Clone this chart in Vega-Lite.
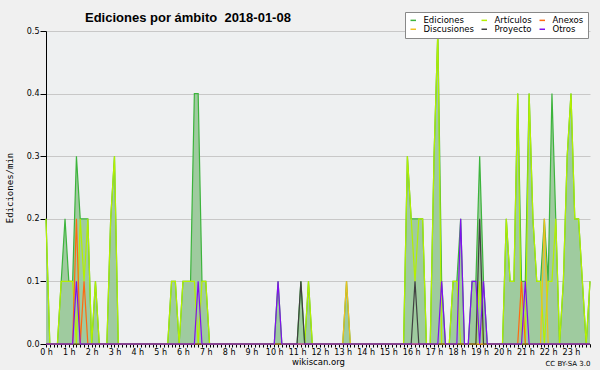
{
"$schema": "https://vega.github.io/schema/vega-lite/v6.json",
"width": 544, "height": 313, "autosize": "none",
"padding": {"left": 46, "top": 31, "right": 10, "bottom": 26},
"background": "#f0f0f0",
"config": {"view": {"fill": "#eef0f1", "stroke": null}, "font": "DejaVu Sans",
  "axis": {"domainColor": "#000", "tickColor": "#000", "labelColor": "#000", "titleColor": "#000", "titleFontWeight": "normal"}},
"title": {"text": "Ediciones por ámbito\u00a0 2018-01-08", "anchor": "start", "frame": "group", "dx": 39, "dy": 20, "offset": 7, "fontSize": 13, "font": "Liberation Sans", "fontWeight": "bold", "color": "#000"},
"data": {"values": [
{"m":0,"Ediciones":0.2,"Artículos":0.2,"Anexos":0,"Discusiones":0,"Proyecto":0,"Otros":0},
{"m":10,"Ediciones":0,"Artículos":0,"Anexos":0,"Discusiones":0,"Proyecto":0,"Otros":0},
{"m":20,"Ediciones":0,"Artículos":0,"Anexos":0,"Discusiones":0,"Proyecto":0,"Otros":0},
{"m":30,"Ediciones":0,"Artículos":0,"Anexos":0,"Discusiones":0,"Proyecto":0,"Otros":0},
{"m":40,"Ediciones":0.1,"Artículos":0.1,"Anexos":0,"Discusiones":0,"Proyecto":0,"Otros":0},
{"m":50,"Ediciones":0.2,"Artículos":0.1,"Anexos":0,"Discusiones":0,"Proyecto":0,"Otros":0},
{"m":60,"Ediciones":0.1,"Artículos":0.1,"Anexos":0,"Discusiones":0,"Proyecto":0,"Otros":0},
{"m":70,"Ediciones":0.1,"Artículos":0.1,"Anexos":0,"Discusiones":0,"Proyecto":0,"Otros":0},
{"m":80,"Ediciones":0.3,"Artículos":0,"Anexos":0.2,"Discusiones":0,"Proyecto":0,"Otros":0.1},
{"m":90,"Ediciones":0.2,"Artículos":0.2,"Anexos":0,"Discusiones":0,"Proyecto":0,"Otros":0},
{"m":100,"Ediciones":0.2,"Artículos":0.1,"Anexos":0.1,"Discusiones":0,"Proyecto":0,"Otros":0},
{"m":110,"Ediciones":0.2,"Artículos":0.2,"Anexos":0,"Discusiones":0,"Proyecto":0,"Otros":0},
{"m":120,"Ediciones":0,"Artículos":0,"Anexos":0,"Discusiones":0,"Proyecto":0,"Otros":0},
{"m":130,"Ediciones":0.1,"Artículos":0.1,"Anexos":0,"Discusiones":0,"Proyecto":0,"Otros":0},
{"m":140,"Ediciones":0,"Artículos":0,"Anexos":0,"Discusiones":0,"Proyecto":0,"Otros":0},
{"m":150,"Ediciones":0,"Artículos":0,"Anexos":0,"Discusiones":0,"Proyecto":0,"Otros":0},
{"m":160,"Ediciones":0,"Artículos":0,"Anexos":0,"Discusiones":0,"Proyecto":0,"Otros":0},
{"m":170,"Ediciones":0.2,"Artículos":0.2,"Anexos":0,"Discusiones":0,"Proyecto":0,"Otros":0},
{"m":180,"Ediciones":0.3,"Artículos":0.3,"Anexos":0,"Discusiones":0,"Proyecto":0,"Otros":0},
{"m":190,"Ediciones":0,"Artículos":0,"Anexos":0,"Discusiones":0,"Proyecto":0,"Otros":0},
{"m":200,"Ediciones":0,"Artículos":0,"Anexos":0,"Discusiones":0,"Proyecto":0,"Otros":0},
{"m":210,"Ediciones":0,"Artículos":0,"Anexos":0,"Discusiones":0,"Proyecto":0,"Otros":0},
{"m":220,"Ediciones":0,"Artículos":0,"Anexos":0,"Discusiones":0,"Proyecto":0,"Otros":0},
{"m":230,"Ediciones":0,"Artículos":0,"Anexos":0,"Discusiones":0,"Proyecto":0,"Otros":0},
{"m":240,"Ediciones":0,"Artículos":0,"Anexos":0,"Discusiones":0,"Proyecto":0,"Otros":0},
{"m":250,"Ediciones":0,"Artículos":0,"Anexos":0,"Discusiones":0,"Proyecto":0,"Otros":0},
{"m":260,"Ediciones":0,"Artículos":0,"Anexos":0,"Discusiones":0,"Proyecto":0,"Otros":0},
{"m":270,"Ediciones":0,"Artículos":0,"Anexos":0,"Discusiones":0,"Proyecto":0,"Otros":0},
{"m":280,"Ediciones":0,"Artículos":0,"Anexos":0,"Discusiones":0,"Proyecto":0,"Otros":0},
{"m":290,"Ediciones":0,"Artículos":0,"Anexos":0,"Discusiones":0,"Proyecto":0,"Otros":0},
{"m":300,"Ediciones":0,"Artículos":0,"Anexos":0,"Discusiones":0,"Proyecto":0,"Otros":0},
{"m":310,"Ediciones":0,"Artículos":0,"Anexos":0,"Discusiones":0,"Proyecto":0,"Otros":0},
{"m":320,"Ediciones":0,"Artículos":0,"Anexos":0,"Discusiones":0,"Proyecto":0,"Otros":0},
{"m":330,"Ediciones":0.1,"Artículos":0.1,"Anexos":0,"Discusiones":0,"Proyecto":0,"Otros":0},
{"m":340,"Ediciones":0.1,"Artículos":0.1,"Anexos":0,"Discusiones":0,"Proyecto":0,"Otros":0},
{"m":350,"Ediciones":0,"Artículos":0,"Anexos":0,"Discusiones":0,"Proyecto":0,"Otros":0},
{"m":360,"Ediciones":0.1,"Artículos":0.1,"Anexos":0,"Discusiones":0,"Proyecto":0,"Otros":0},
{"m":370,"Ediciones":0.1,"Artículos":0.1,"Anexos":0,"Discusiones":0,"Proyecto":0,"Otros":0},
{"m":380,"Ediciones":0.1,"Artículos":0.1,"Anexos":0,"Discusiones":0,"Proyecto":0,"Otros":0},
{"m":390,"Ediciones":0.4,"Artículos":0.1,"Anexos":0,"Discusiones":0,"Proyecto":0,"Otros":0},
{"m":400,"Ediciones":0.4,"Artículos":0,"Anexos":0,"Discusiones":0,"Proyecto":0,"Otros":0.1},
{"m":410,"Ediciones":0.1,"Artículos":0.1,"Anexos":0,"Discusiones":0,"Proyecto":0,"Otros":0},
{"m":420,"Ediciones":0.1,"Artículos":0.1,"Anexos":0,"Discusiones":0,"Proyecto":0,"Otros":0},
{"m":430,"Ediciones":0,"Artículos":0,"Anexos":0,"Discusiones":0,"Proyecto":0,"Otros":0},
{"m":440,"Ediciones":0,"Artículos":0,"Anexos":0,"Discusiones":0,"Proyecto":0,"Otros":0},
{"m":450,"Ediciones":0,"Artículos":0,"Anexos":0,"Discusiones":0,"Proyecto":0,"Otros":0},
{"m":460,"Ediciones":0,"Artículos":0,"Anexos":0,"Discusiones":0,"Proyecto":0,"Otros":0},
{"m":470,"Ediciones":0,"Artículos":0,"Anexos":0,"Discusiones":0,"Proyecto":0,"Otros":0},
{"m":480,"Ediciones":0,"Artículos":0,"Anexos":0,"Discusiones":0,"Proyecto":0,"Otros":0},
{"m":490,"Ediciones":0,"Artículos":0,"Anexos":0,"Discusiones":0,"Proyecto":0,"Otros":0},
{"m":500,"Ediciones":0,"Artículos":0,"Anexos":0,"Discusiones":0,"Proyecto":0,"Otros":0},
{"m":510,"Ediciones":0,"Artículos":0,"Anexos":0,"Discusiones":0,"Proyecto":0,"Otros":0},
{"m":520,"Ediciones":0,"Artículos":0,"Anexos":0,"Discusiones":0,"Proyecto":0,"Otros":0},
{"m":530,"Ediciones":0,"Artículos":0,"Anexos":0,"Discusiones":0,"Proyecto":0,"Otros":0},
{"m":540,"Ediciones":0,"Artículos":0,"Anexos":0,"Discusiones":0,"Proyecto":0,"Otros":0},
{"m":550,"Ediciones":0,"Artículos":0,"Anexos":0,"Discusiones":0,"Proyecto":0,"Otros":0},
{"m":560,"Ediciones":0,"Artículos":0,"Anexos":0,"Discusiones":0,"Proyecto":0,"Otros":0},
{"m":570,"Ediciones":0,"Artículos":0,"Anexos":0,"Discusiones":0,"Proyecto":0,"Otros":0},
{"m":580,"Ediciones":0,"Artículos":0,"Anexos":0,"Discusiones":0,"Proyecto":0,"Otros":0},
{"m":590,"Ediciones":0,"Artículos":0,"Anexos":0,"Discusiones":0,"Proyecto":0,"Otros":0},
{"m":600,"Ediciones":0,"Artículos":0,"Anexos":0,"Discusiones":0,"Proyecto":0,"Otros":0},
{"m":610,"Ediciones":0.1,"Artículos":0,"Anexos":0,"Discusiones":0,"Proyecto":0,"Otros":0.1},
{"m":620,"Ediciones":0,"Artículos":0,"Anexos":0,"Discusiones":0,"Proyecto":0,"Otros":0},
{"m":630,"Ediciones":0,"Artículos":0,"Anexos":0,"Discusiones":0,"Proyecto":0,"Otros":0},
{"m":640,"Ediciones":0,"Artículos":0,"Anexos":0,"Discusiones":0,"Proyecto":0,"Otros":0},
{"m":650,"Ediciones":0,"Artículos":0,"Anexos":0,"Discusiones":0,"Proyecto":0,"Otros":0},
{"m":660,"Ediciones":0,"Artículos":0,"Anexos":0,"Discusiones":0,"Proyecto":0,"Otros":0},
{"m":670,"Ediciones":0.1,"Artículos":0,"Anexos":0,"Discusiones":0,"Proyecto":0.1,"Otros":0},
{"m":680,"Ediciones":0,"Artículos":0,"Anexos":0,"Discusiones":0,"Proyecto":0,"Otros":0},
{"m":690,"Ediciones":0.1,"Artículos":0.1,"Anexos":0,"Discusiones":0,"Proyecto":0,"Otros":0},
{"m":700,"Ediciones":0,"Artículos":0,"Anexos":0,"Discusiones":0,"Proyecto":0,"Otros":0},
{"m":710,"Ediciones":0,"Artículos":0,"Anexos":0,"Discusiones":0,"Proyecto":0,"Otros":0},
{"m":720,"Ediciones":0,"Artículos":0,"Anexos":0,"Discusiones":0,"Proyecto":0,"Otros":0},
{"m":730,"Ediciones":0,"Artículos":0,"Anexos":0,"Discusiones":0,"Proyecto":0,"Otros":0},
{"m":740,"Ediciones":0,"Artículos":0,"Anexos":0,"Discusiones":0,"Proyecto":0,"Otros":0},
{"m":750,"Ediciones":0,"Artículos":0,"Anexos":0,"Discusiones":0,"Proyecto":0,"Otros":0},
{"m":760,"Ediciones":0,"Artículos":0,"Anexos":0,"Discusiones":0,"Proyecto":0,"Otros":0},
{"m":770,"Ediciones":0,"Artículos":0,"Anexos":0,"Discusiones":0,"Proyecto":0,"Otros":0},
{"m":780,"Ediciones":0,"Artículos":0,"Anexos":0,"Discusiones":0,"Proyecto":0,"Otros":0},
{"m":790,"Ediciones":0.1,"Artículos":0,"Anexos":0,"Discusiones":0.1,"Proyecto":0,"Otros":0},
{"m":800,"Ediciones":0,"Artículos":0,"Anexos":0,"Discusiones":0,"Proyecto":0,"Otros":0},
{"m":810,"Ediciones":0,"Artículos":0,"Anexos":0,"Discusiones":0,"Proyecto":0,"Otros":0},
{"m":820,"Ediciones":0,"Artículos":0,"Anexos":0,"Discusiones":0,"Proyecto":0,"Otros":0},
{"m":830,"Ediciones":0,"Artículos":0,"Anexos":0,"Discusiones":0,"Proyecto":0,"Otros":0},
{"m":840,"Ediciones":0,"Artículos":0,"Anexos":0,"Discusiones":0,"Proyecto":0,"Otros":0},
{"m":850,"Ediciones":0,"Artículos":0,"Anexos":0,"Discusiones":0,"Proyecto":0,"Otros":0},
{"m":860,"Ediciones":0,"Artículos":0,"Anexos":0,"Discusiones":0,"Proyecto":0,"Otros":0},
{"m":870,"Ediciones":0,"Artículos":0,"Anexos":0,"Discusiones":0,"Proyecto":0,"Otros":0},
{"m":880,"Ediciones":0,"Artículos":0,"Anexos":0,"Discusiones":0,"Proyecto":0,"Otros":0},
{"m":890,"Ediciones":0,"Artículos":0,"Anexos":0,"Discusiones":0,"Proyecto":0,"Otros":0},
{"m":900,"Ediciones":0,"Artículos":0,"Anexos":0,"Discusiones":0,"Proyecto":0,"Otros":0},
{"m":910,"Ediciones":0,"Artículos":0,"Anexos":0,"Discusiones":0,"Proyecto":0,"Otros":0},
{"m":920,"Ediciones":0,"Artículos":0,"Anexos":0,"Discusiones":0,"Proyecto":0,"Otros":0},
{"m":930,"Ediciones":0,"Artículos":0,"Anexos":0,"Discusiones":0,"Proyecto":0,"Otros":0},
{"m":940,"Ediciones":0,"Artículos":0,"Anexos":0,"Discusiones":0,"Proyecto":0,"Otros":0},
{"m":950,"Ediciones":0.3,"Artículos":0.3,"Anexos":0,"Discusiones":0,"Proyecto":0,"Otros":0},
{"m":960,"Ediciones":0.2,"Artículos":0.2,"Anexos":0,"Discusiones":0,"Proyecto":0,"Otros":0},
{"m":970,"Ediciones":0.2,"Artículos":0.1,"Anexos":0,"Discusiones":0,"Proyecto":0.1,"Otros":0},
{"m":980,"Ediciones":0.2,"Artículos":0.2,"Anexos":0,"Discusiones":0,"Proyecto":0,"Otros":0},
{"m":990,"Ediciones":0.2,"Artículos":0.2,"Anexos":0,"Discusiones":0,"Proyecto":0,"Otros":0},
{"m":1000,"Ediciones":0,"Artículos":0,"Anexos":0,"Discusiones":0,"Proyecto":0,"Otros":0},
{"m":1010,"Ediciones":0,"Artículos":0,"Anexos":0,"Discusiones":0,"Proyecto":0,"Otros":0},
{"m":1020,"Ediciones":0.3,"Artículos":0.3,"Anexos":0,"Discusiones":0,"Proyecto":0,"Otros":0},
{"m":1030,"Ediciones":0.5,"Artículos":0.5,"Anexos":0,"Discusiones":0,"Proyecto":0,"Otros":0},
{"m":1040,"Ediciones":0.1,"Artículos":0,"Anexos":0,"Discusiones":0,"Proyecto":0,"Otros":0.1},
{"m":1050,"Ediciones":0,"Artículos":0,"Anexos":0,"Discusiones":0,"Proyecto":0,"Otros":0},
{"m":1060,"Ediciones":0,"Artículos":0,"Anexos":0,"Discusiones":0,"Proyecto":0,"Otros":0},
{"m":1070,"Ediciones":0.1,"Artículos":0.1,"Anexos":0,"Discusiones":0,"Proyecto":0,"Otros":0},
{"m":1080,"Ediciones":0.1,"Artículos":0.1,"Anexos":0,"Discusiones":0,"Proyecto":0,"Otros":0},
{"m":1090,"Ediciones":0.2,"Artículos":0,"Anexos":0,"Discusiones":0,"Proyecto":0,"Otros":0.2},
{"m":1100,"Ediciones":0,"Artículos":0,"Anexos":0,"Discusiones":0,"Proyecto":0,"Otros":0},
{"m":1110,"Ediciones":0,"Artículos":0,"Anexos":0,"Discusiones":0,"Proyecto":0,"Otros":0},
{"m":1120,"Ediciones":0.1,"Artículos":0,"Anexos":0,"Discusiones":0,"Proyecto":0,"Otros":0.1},
{"m":1130,"Ediciones":0.1,"Artículos":0,"Anexos":0,"Discusiones":0,"Proyecto":0,"Otros":0.1},
{"m":1140,"Ediciones":0.3,"Artículos":0.1,"Anexos":0,"Discusiones":0,"Proyecto":0.2,"Otros":0},
{"m":1150,"Ediciones":0.1,"Artículos":0,"Anexos":0,"Discusiones":0,"Proyecto":0,"Otros":0.1},
{"m":1160,"Ediciones":0,"Artículos":0,"Anexos":0,"Discusiones":0,"Proyecto":0,"Otros":0},
{"m":1170,"Ediciones":0,"Artículos":0,"Anexos":0,"Discusiones":0,"Proyecto":0,"Otros":0},
{"m":1180,"Ediciones":0,"Artículos":0,"Anexos":0,"Discusiones":0,"Proyecto":0,"Otros":0},
{"m":1190,"Ediciones":0,"Artículos":0,"Anexos":0,"Discusiones":0,"Proyecto":0,"Otros":0},
{"m":1200,"Ediciones":0,"Artículos":0,"Anexos":0,"Discusiones":0,"Proyecto":0,"Otros":0},
{"m":1210,"Ediciones":0.2,"Artículos":0.2,"Anexos":0,"Discusiones":0,"Proyecto":0,"Otros":0},
{"m":1220,"Ediciones":0.1,"Artículos":0.1,"Anexos":0,"Discusiones":0,"Proyecto":0,"Otros":0},
{"m":1230,"Ediciones":0.1,"Artículos":0.1,"Anexos":0,"Discusiones":0,"Proyecto":0,"Otros":0},
{"m":1240,"Ediciones":0.4,"Artículos":0.4,"Anexos":0,"Discusiones":0,"Proyecto":0,"Otros":0},
{"m":1250,"Ediciones":0.1,"Artículos":0,"Anexos":0.1,"Discusiones":0,"Proyecto":0,"Otros":0},
{"m":1260,"Ediciones":0.1,"Artículos":0,"Anexos":0,"Discusiones":0,"Proyecto":0,"Otros":0.1},
{"m":1270,"Ediciones":0.4,"Artículos":0.4,"Anexos":0,"Discusiones":0,"Proyecto":0,"Otros":0},
{"m":1280,"Ediciones":0.2,"Artículos":0.2,"Anexos":0,"Discusiones":0,"Proyecto":0,"Otros":0},
{"m":1290,"Ediciones":0.1,"Artículos":0.1,"Anexos":0,"Discusiones":0,"Proyecto":0,"Otros":0},
{"m":1300,"Ediciones":0.1,"Artículos":0.1,"Anexos":0,"Discusiones":0,"Proyecto":0,"Otros":0},
{"m":1310,"Ediciones":0.2,"Artículos":0,"Anexos":0,"Discusiones":0.2,"Proyecto":0,"Otros":0},
{"m":1320,"Ediciones":0.1,"Artículos":0.1,"Anexos":0,"Discusiones":0,"Proyecto":0,"Otros":0},
{"m":1330,"Ediciones":0.4,"Artículos":0.1,"Anexos":0,"Discusiones":0,"Proyecto":0,"Otros":0},
{"m":1340,"Ediciones":0.2,"Artículos":0.2,"Anexos":0,"Discusiones":0,"Proyecto":0,"Otros":0},
{"m":1350,"Ediciones":0,"Artículos":0,"Anexos":0,"Discusiones":0,"Proyecto":0,"Otros":0},
{"m":1360,"Ediciones":0.1,"Artículos":0.1,"Anexos":0,"Discusiones":0,"Proyecto":0,"Otros":0},
{"m":1370,"Ediciones":0.3,"Artículos":0.3,"Anexos":0,"Discusiones":0,"Proyecto":0,"Otros":0},
{"m":1380,"Ediciones":0.4,"Artículos":0.4,"Anexos":0,"Discusiones":0,"Proyecto":0,"Otros":0},
{"m":1390,"Ediciones":0.2,"Artículos":0.2,"Anexos":0,"Discusiones":0,"Proyecto":0,"Otros":0},
{"m":1400,"Ediciones":0.2,"Artículos":0.2,"Anexos":0,"Discusiones":0,"Proyecto":0,"Otros":0},
{"m":1410,"Ediciones":0.1,"Artículos":0.1,"Anexos":0,"Discusiones":0,"Proyecto":0,"Otros":0},
{"m":1420,"Ediciones":0,"Artículos":0,"Anexos":0,"Discusiones":0,"Proyecto":0,"Otros":0},
{"m":1430,"Ediciones":0.1,"Artículos":0.1,"Anexos":0,"Discusiones":0,"Proyecto":0,"Otros":0}
]},
"transform": [{"fold": ["Ediciones","Artículos","Anexos","Discusiones","Proyecto","Otros"], "as": ["serie","v"]}],
"layer": [
 {"transform": [{"filter": "datum.serie === 'Ediciones'"}],
  "mark": {"type": "area", "color": "#9fcb9f", "opacity": 1},
  "encoding": {
   "x": {"field": "m", "type": "quantitative", "scale": {"domain": [0,1430], "nice": false, "zero": false},
     "axis": {"orient": "bottom", "tickCount": 143, "labelExpr": "datum.value % 60 == 0 ? (datum.value / 60) + ' h' : ''", "labelOverlap": false, "labelFlush": false, "labelFontSize": 8, "labelPadding": 1, "tickSize": 3, "grid": false, "title": "wikiscan.org", "titleFontSize": 8.5, "titlePadding": 1}},
   "y": {"field": "v", "type": "quantitative", "scale": {"domain": [0,0.5], "nice": false},
     "axis": {"values": [0,0.025,0.05,0.075,0.1,0.125,0.15,0.175,0.2,0.225,0.25,0.275,0.3,0.325,0.35,0.375,0.4,0.425,0.45,0.475,0.5],
       "labelExpr": "abs(datum.value*10 - round(datum.value*10)) < 0.001 ? format(datum.value, '.1f') : ''",
       "labelOverlap": false, "labelFlush": false, "labelFontSize": 8, "labelPadding": 1,
       "grid": true, "gridColor": "#c8c8c8",
       "gridOpacity": {"condition": {"test": "datum.value > 0.01 && abs(datum.value*10 - round(datum.value*10)) < 0.001", "value": 1}, "value": 0},
       "tickSize": {"condition": {"test": "abs(datum.value*10 - round(datum.value*10)) < 0.001", "value": 6}, "value": 3},
       "title": "Ediciones/min", "titleFont": "DejaVu Sans Mono", "titleFontSize": 9, "titlePadding": 12}}
  }},
 {"mark": {"type": "line", "strokeWidth": 1.2},
  "encoding": {
   "x": {"field": "m", "type": "quantitative", "axis": {"orient": "bottom", "labels": false, "ticks": false, "domain": false, "grid": false, "title": "CC BY-SA 3.0", "titleAnchor": "end", "titleFontSize": 7, "titleY": 15}},
   "y": {"field": "v", "type": "quantitative"},
   "color": {"field": "serie", "type": "nominal",
     "scale": {"domain": ["Ediciones","Artículos","Anexos","Discusiones","Proyecto","Otros"], "range": ["#3cb43c","#b4f000","#ff6a10","#f0c020","#404040","#8010f0"]},
     "legend": {"orient": "none", "legendX": 359, "legendY": -19, "direction": "horizontal", "columns": 3, "title": null, "symbolType": "stroke", "symbolSize": 30, "symbolStrokeWidth": 1.5, "labelFontSize": 8.5, "labelColor": "#000", "fillColor": "#ffffff", "strokeColor": "#888888", "padding": 4, "rowPadding": 0, "columnPadding": 4, "labelOffset": 6}}
  }}
],
"resolve": {"axis": {"x": "independent"}}
}
